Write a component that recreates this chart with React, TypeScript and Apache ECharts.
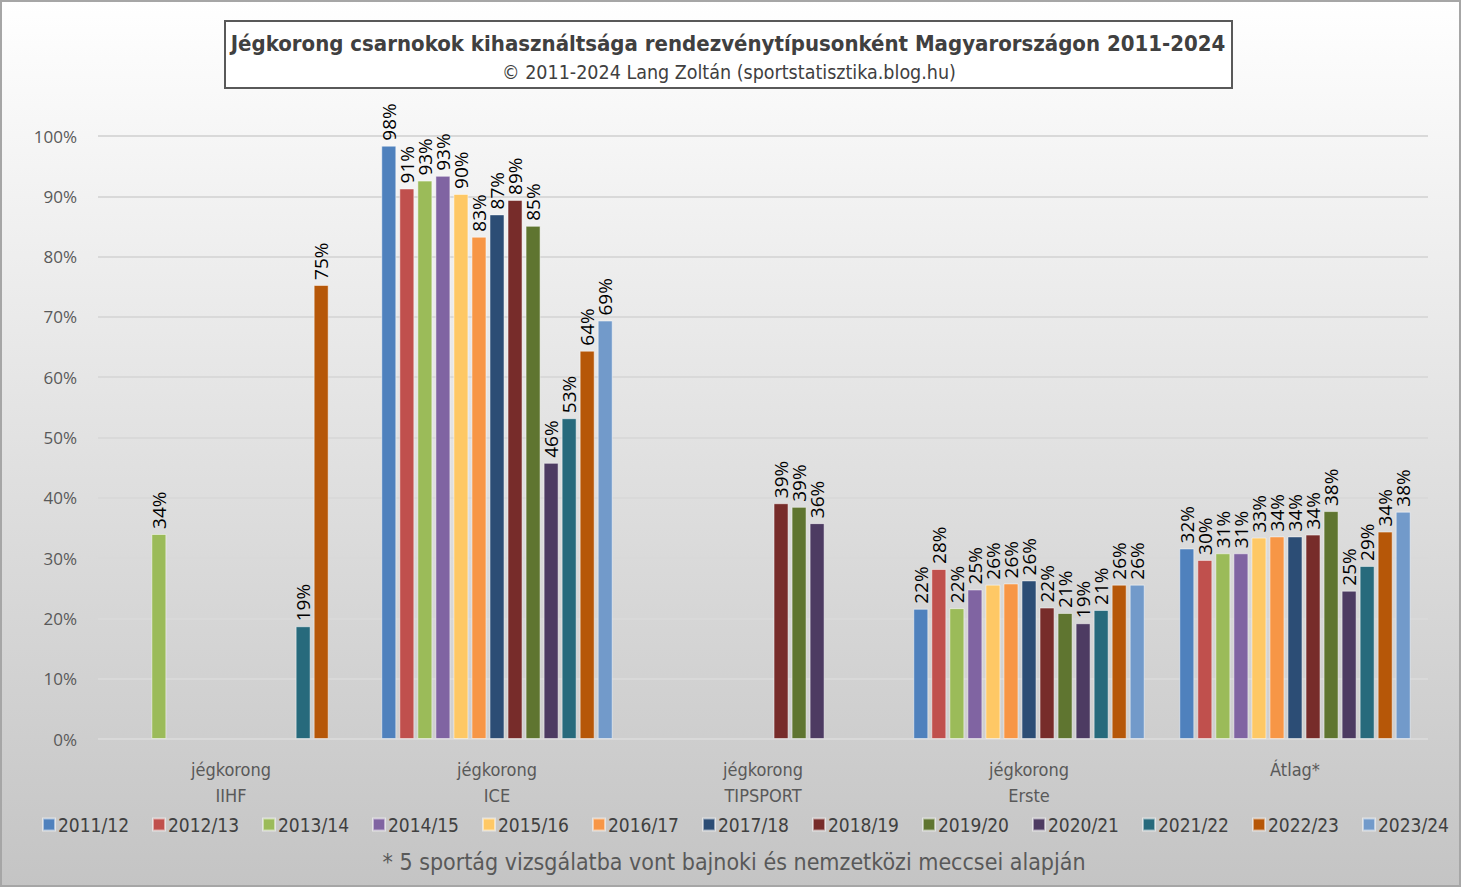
import React, { useEffect, useRef } from "react";
import * as echarts from "echarts";

const categories = ["jégkorong\nIIHF", "jégkorong\nICE", "jégkorong\nTIPSPORT", "jégkorong\nErste", "Átlag*"];
const seasons = ["2011/12", "2012/13", "2013/14", "2014/15", "2015/16", "2016/17", "2017/18", "2018/19", "2019/20", "2020/21", "2021/22", "2022/23", "2023/24"];
const colors = ["#4f81bd", "#c0504d", "#9bbb59", "#8064a2", "#fec865", "#f79646", "#2c4d75", "#772c2a", "#5f7530", "#4d3b62", "#276a7c", "#b65708", "#729aca"];

const v2011 = [null, 98.4, null, 21.6, 31.6];
const v2012 = [null, 91.3, null, 28.2, 29.7];
const v2013 = [34.0, 92.6, null, 21.7, 30.8];
const v2014 = [null, 93.4, null, 24.8, 30.8];
const v2015 = [null, 90.4, null, 25.6, 33.4];
const v2016 = [null, 83.3, null, 25.8, 33.6];
const v2017 = [null, 87.0, null, 26.3, 33.6];
const v2018 = [null, 89.4, 39.1, 21.8, 33.9];
const v2019 = [null, 85.1, 38.5, 20.9, 37.8];
const v2020 = [null, 45.8, 35.8, 19.2, 24.6];
const v2021 = [18.7, 53.2, null, 21.4, 28.7];
const v2022 = [75.3, 64.4, null, 25.6, 34.4];
const v2023 = [null, 69.4, null, 25.6, 37.7];
const seriesValues = [v2011, v2012, v2013, v2014, v2015, v2016, v2017, v2018, v2019, v2020, v2021, v2022, v2023];

const yTicks = [0, 10, 20, 30, 40, 50, 60, 70, 80, 90, 100];

const titleText = "Jégkorong csarnokok kihasználtsága rendezvénytípusonként Magyarországon 2011-2024";
const subText = "© 2011-2024 Lang Zoltán (sportstatisztika.blog.hu)";
const footnote = "* 5 sportág vizsgálatba vont bajnoki és nemzetközi meccsei alapján";

const FONT = "'DejaVu Sans Condensed', 'Open Sans', sans-serif";

export default function App() {
  const ref = useRef<HTMLDivElement>(null);
  useEffect(() => {
    if (!ref.current) return;
    const chart = echarts.init(ref.current, undefined, { renderer: "svg" });
    chart.setOption({
      animation: false,
      backgroundColor: new echarts.graphic.LinearGradient(0, 0, 0, 1, [
        { offset: 0, color: "#ffffff" },
        { offset: 1, color: "#c4c4c4" },
      ]),
      textStyle: { fontFamily: FONT },
      grid: { left: 98, right: 33, top: 136, bottom: 148 },
      xAxis: {
        type: "category",
        data: categories,
        axisLine: { show: false },
        axisTick: { show: false },
        axisLabel: { interval: 0, fontSize: 18, lineHeight: 26, color: "#595959", margin: 17, fontFamily: FONT },
      },
      yAxis: {
        type: "value",
        min: yTicks[0],
        max: yTicks[yTicks.length - 1],
        interval: 10,
        axisLine: { show: false },
        axisTick: { show: false },
        axisLabel: { formatter: "{value}%", fontSize: 17, color: "#595959", margin: 21, fontFamily: "'Open Sans', sans-serif" },
        splitLine: { lineStyle: { color: "#d9d9d9", width: 2 } },
      },
      legend: {
        top: 810,
        left: 37,
        itemWidth: 12,
        itemHeight: 12,
        itemGap: 23,
        icon: "rect",
        textStyle: { fontSize: 19, color: "#404040", fontFamily: FONT, padding: [0, 0, 0, -2] },
        data: seasons,
      },
      series: seasons.map((s, i) => ({
        name: s,
        type: "bar",
        data: seriesValues[i],
        barGap: "20%",
        barCategoryGap: "13%",
        itemStyle: { color: colors[i], borderColor: "rgba(255,255,255,0.5)", borderWidth: 1 },
        label: {
          show: true,
          position: "top",
          rotate: 90,
          align: "left",
          verticalAlign: "middle",
          distance: 5,
          fontSize: 19,
          color: "#000000",
          fontFamily: "'Open Sans', sans-serif",
          formatter: (p: any) => (p.value == null ? "" : Math.round(p.value) + "%"),
        },
      })),
      graphic: [
        {
          type: "rect",
          shape: { x: 1, y: 1, width: 1459, height: 885 },
          style: { fill: "none", stroke: "#a6a6a6", lineWidth: 2 },
          silent: true,
        },
        {
          type: "rect",
          shape: { x: 225, y: 21, width: 1007, height: 67 },
          style: { fill: "#ffffff", stroke: "#595959", lineWidth: 2 },
        },
        {
          type: "text",
          x: 728,
          y: 43,
          style: { text: titleText, fontSize: 22, fontWeight: "bold", fill: "#404040", align: "center", verticalAlign: "middle", fontFamily: FONT },
        },
        {
          type: "text",
          x: 729,
          y: 72,
          style: { text: subText, fontSize: 19.5, fill: "#404040", align: "center", verticalAlign: "middle", fontFamily: FONT },
        },
        {
          type: "text",
          x: 734,
          y: 862,
          style: { text: footnote, fontSize: 23, fill: "#595959", align: "center", verticalAlign: "middle", fontFamily: FONT },
        },
      ],
    });
    return () => chart.dispose();
  }, []);
  return <div ref={ref} style={{ position: "absolute", left: 0, top: 0, width: 1461, height: 887 }} />;
}
